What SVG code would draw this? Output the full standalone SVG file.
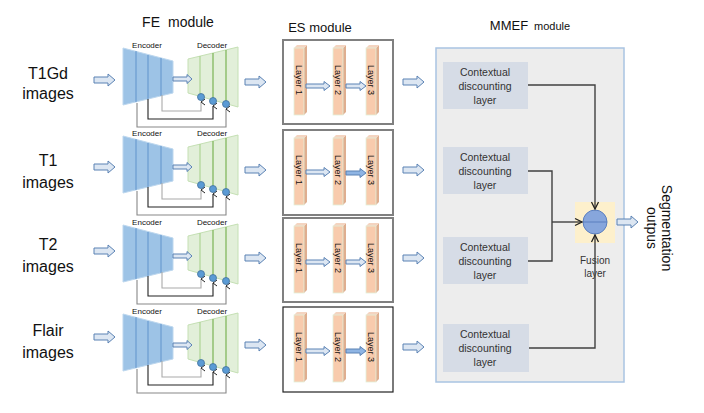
<svg xmlns="http://www.w3.org/2000/svg" xmlns:xlink="http://www.w3.org/1999/xlink" width="704" height="413" viewBox="0 0 704 413">
<style>
text{font-family:"Liberation Sans",Arial,sans-serif;fill:#111}
.lbl{font-size:16px;text-anchor:middle}
.ttl{font-size:14px;text-anchor:middle}
.small{font-size:8px;text-anchor:middle}
.cd{font-size:10.5px;text-anchor:middle;fill:#333}
.lay{font-size:9px;text-anchor:middle}
.harr{fill:#dce6f2;stroke:#5a82b4;stroke-width:1}
.enc{fill:#9dc3e6;stroke:#bdd7ee;stroke-width:1}
.encl{stroke:#6a9bd0;stroke-width:1.2}
.dec{fill:#e2efd9;stroke:#c5e0b4;stroke-width:1}
.decl{stroke:#a9d18e;stroke-width:1.1}
.decl2{stroke:#70ad47;stroke-width:1.1}
.dot{fill:#5b9bd5;stroke:#41719c;stroke-width:0.8}
.skip{fill:none;stroke-width:1.1}
.esbox{fill:#fff;stroke:#808080;stroke-width:2}
.front{fill:#f8cbad;stroke:#e2efd9;stroke-width:0.8}
.side{fill:#dfae8f}
.top{fill:#f4d4c0}
.cdbox{fill:#d6dce6}
.conn{fill:none;stroke:#404040;stroke-width:1.4}
</style>
<defs>
<path id="ha" d="M0,-3 H14 V-6 L21,0 L14,6 V3 H0 Z"/>
<path id="h19" d="M0,-2 H14 V-4.5 L19,0 L14,4.5 V2 H0 Z"/>
<path id="h24" d="M0,-2 H18 V-4.5 L24,0 L18,4.5 V2 H0 Z"/>
<path id="h20" d="M0,-2 H14 V-4.5 L20,0 L14,4.5 V2 H0 Z"/>
<marker id="up" markerWidth="8" markerHeight="8" refX="4" refY="1" orient="auto" markerUnits="userSpaceOnUse">
<path d="M1,5 L4,1 L7,5" fill="none" stroke="#222" stroke-width="1"/>
</marker>
<marker id="ar" markerWidth="10" markerHeight="10" refX="8" refY="5" orient="auto" markerUnits="userSpaceOnUse">
<path d="M1,1.5 L8,5 L1,8.5" fill="none" stroke="#222" stroke-width="1.3"/>
</marker>
<g id="fe">
<polygon class="enc" points="123,48 173,61 173,93 123,105"/>
<line class="encl" x1="136" y1="51" x2="136" y2="102"/>
<line class="encl" x1="148" y1="55" x2="148" y2="99"/>
<line class="encl" x1="161" y1="58" x2="161" y2="96"/>
<polygon class="dec" points="188,59 238,47 238,107 188,93"/>
<line class="decl" x1="200" y1="56" x2="200" y2="96"/>
<line class="decl2" x1="213" y1="53" x2="213" y2="100"/>
<line class="decl2" x1="226" y1="50" x2="226" y2="104"/>
<use xlink:href="#h19" class="harr" x="173" y="79"/>
<text class="small" x="147" y="48">Encoder</text>
<text class="small" x="212" y="48">Decoder</text>
<path class="skip" stroke="#aaaaaa" d="M162,95 V111 H201 V102" marker-end="url(#up)"/>
<path class="skip" stroke="#222" d="M148,99 V119 H213 V106" marker-end="url(#up)"/>
<path class="skip" stroke="#888" d="M137,103 V127 H226 V109" marker-end="url(#up)"/>
<circle class="dot" cx="201" cy="97" r="3.5"/>
<circle class="dot" cx="213" cy="101" r="3.5"/>
<circle class="dot" cx="226" cy="104" r="3.5"/>
</g>
<g id="bar">
<polygon class="side" points="10,2 13,-1 13,66 10,69"/>
<polygon class="top" points="0,2 3,-1 13,-1 10,2"/>
<rect class="front" x="0" y="2" width="10" height="67"/>
</g>
</defs>

<!-- titles -->
<text class="ttl" x="178" y="27">FE<tspan dx="8">module</tspan></text>
<text class="ttl" x="320" y="32" style="font-size:13px">ES module</text>
<text class="ttl" x="530" y="30" style="font-size:13px">MMEF<tspan dx="6" style="font-size:11px">module</tspan></text>

<!-- input labels -->
<g id="in-t1gd"><text class="lbl" x="48" y="79">T1Gd</text><text class="lbl" x="48" y="99">images</text></g>
<g id="in-t1"><text class="lbl" x="48" y="166">T1</text><text class="lbl" x="48" y="188">images</text></g>
<g id="in-t2"><text class="lbl" x="48" y="250">T2</text><text class="lbl" x="48" y="272">images</text></g>
<g id="in-flair"><text class="lbl" x="48" y="336">Flair</text><text class="lbl" x="48" y="358">images</text></g>

<!-- FE modules -->
<g id="fe-0"><use xlink:href="#fe"/></g>
<g id="fe-1"><use xlink:href="#fe" y="88"/></g>
<g id="fe-2"><use xlink:href="#fe" y="177"/></g>
<g id="fe-3"><use xlink:href="#fe" y="266"/></g>

<!-- ES modules -->
<g id="es-0">
<rect class="esbox" x="283" y="40" width="110" height="84"/>
<use xlink:href="#bar" x="294" y="46"/><use xlink:href="#bar" x="333" y="46"/><use xlink:href="#bar" x="366" y="46"/>
<text class="lay" transform="translate(299,80) rotate(90)" y="3">Layer 1</text>
<text class="lay" transform="translate(338,80) rotate(90)" y="3">Layer 2</text>
<text class="lay" transform="translate(371,80) rotate(90)" y="3">Layer 3</text>
<use xlink:href="#h24" class="harr" x="306" y="86"/><use xlink:href="#h20" class="harr" x="346" y="86"/>
</g>
<g id="es-1">
<rect class="esbox" x="283" y="130" width="110" height="85"/>
<use xlink:href="#bar" x="294" y="136"/><use xlink:href="#bar" x="333" y="136"/><use xlink:href="#bar" x="366" y="136"/>
<text class="lay" transform="translate(299,170) rotate(90)" y="3">Layer 1</text>
<text class="lay" transform="translate(338,170) rotate(90)" y="3">Layer 2</text>
<text class="lay" transform="translate(371,170) rotate(90)" y="3">Layer 3</text>
<use xlink:href="#h24" class="harr" x="306" y="172"/><use xlink:href="#h20" class="harr" x="346" y="173" style="fill:#8eb4e3"/>
</g>
<g id="es-2">
<rect class="esbox" x="283" y="218" width="110" height="84"/>
<use xlink:href="#bar" x="294" y="224"/><use xlink:href="#bar" x="333" y="224"/><use xlink:href="#bar" x="366" y="224"/>
<text class="lay" transform="translate(299,258) rotate(90)" y="3">Layer 1</text>
<text class="lay" transform="translate(338,258) rotate(90)" y="3">Layer 2</text>
<text class="lay" transform="translate(371,258) rotate(90)" y="3">Layer 3</text>
<use xlink:href="#h24" class="harr" x="306" y="262"/><use xlink:href="#h20" class="harr" x="346" y="262"/>
</g>
<g id="es-3">
<rect x="283" y="307" width="110" height="85" fill="#fff" stroke="#222" stroke-width="1.2"/>
<use xlink:href="#bar" x="294" y="313"/><use xlink:href="#bar" x="333" y="313"/><use xlink:href="#bar" x="366" y="313"/>
<text class="lay" transform="translate(299,347) rotate(90)" y="3">Layer 1</text>
<text class="lay" transform="translate(338,347) rotate(90)" y="3">Layer 2</text>
<text class="lay" transform="translate(371,347) rotate(90)" y="3">Layer 3</text>
<use xlink:href="#h24" class="harr" x="306" y="351"/><use xlink:href="#h20" class="harr" x="346" y="351" style="fill:#8eb4e3"/>
</g>

<!-- MMEF -->
<g id="mmef">
<rect x="436" y="48" width="188" height="334" fill="#ededed" stroke="#a9c4e2" stroke-width="1.5"/>
</g>
<g id="cd-0"><rect class="cdbox" x="443" y="62" width="85" height="47"/>
<text class="cd" x="485" y="76">Contextual</text><text class="cd" x="485" y="90">discounting</text><text class="cd" x="485" y="104">layer</text></g>
<g id="cd-1"><rect class="cdbox" x="443" y="147" width="85" height="47"/>
<text class="cd" x="485" y="161">Contextual</text><text class="cd" x="485" y="175">discounting</text><text class="cd" x="485" y="189">layer</text></g>
<g id="cd-2"><rect class="cdbox" x="443" y="237" width="85" height="47"/>
<text class="cd" x="485" y="251">Contextual</text><text class="cd" x="485" y="265">discounting</text><text class="cd" x="485" y="279">layer</text></g>
<g id="cd-3"><rect class="cdbox" x="443" y="324" width="86" height="48"/>
<text class="cd" x="485" y="338">Contextual</text><text class="cd" x="485" y="352">discounting</text><text class="cd" x="485" y="366">layer</text></g>

<g id="fusion">
<rect x="575" y="202" width="40" height="41" fill="#fdf0cc"/>
<circle cx="595" cy="222" r="12" fill="#87a6dc" stroke="#5b7fbf" stroke-width="1"/>
<line x1="583" y1="222" x2="607" y2="222" stroke="#5b7fbf" stroke-width="1"/>
<text x="595" y="264" style="font-size:10px;text-anchor:middle;fill:#333">Fusion</text>
<text x="595" y="277" style="font-size:10px;text-anchor:middle;fill:#333">layer</text>
</g>

<g id="output">
<text style="font-size:14px;text-anchor:middle" transform="translate(662,228) rotate(90)">Segmentation</text>
<text style="font-size:14px;text-anchor:middle" transform="translate(647,228) rotate(90)">outpus</text>
</g>

<!-- connectors -->
<g id="connectors">
<use xlink:href="#ha" class="harr" x="94" y="80"/>
<use xlink:href="#ha" class="harr" x="94" y="167"/>
<use xlink:href="#ha" class="harr" x="94" y="251"/>
<use xlink:href="#ha" class="harr" x="94" y="337"/>
<use xlink:href="#ha" class="harr" x="245" y="82"/>
<use xlink:href="#ha" class="harr" x="245" y="170"/>
<use xlink:href="#ha" class="harr" x="245" y="258"/>
<use xlink:href="#ha" class="harr" x="245" y="345"/>
<use xlink:href="#ha" class="harr" x="403" y="82"/>
<use xlink:href="#ha" class="harr" x="403" y="170"/>
<use xlink:href="#ha" class="harr" x="403" y="258"/>
<use xlink:href="#ha" class="harr" x="403" y="347"/>
<path class="conn" d="M528,85 H595 V209" marker-end="url(#ar)"/>
<path class="conn" d="M528,171 H552 V261 H528"/>
<path class="conn" d="M552,222 H582" marker-end="url(#ar)"/>
<path class="conn" d="M529,348 H595 V235" marker-end="url(#ar)"/>
<use xlink:href="#ha" class="harr" x="617" y="222"/>
</g>
</svg>
